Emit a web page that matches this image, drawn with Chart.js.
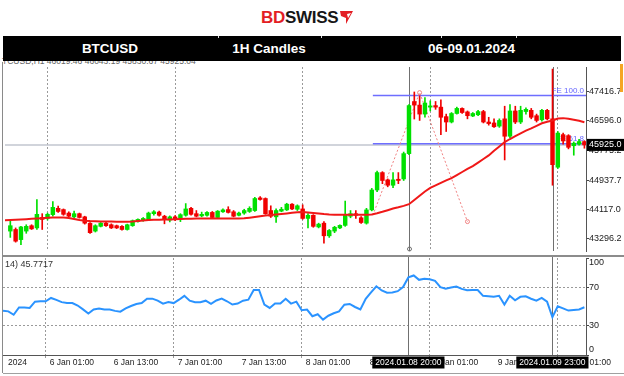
<!DOCTYPE html>
<html lang="en">
<head>
<meta charset="UTF-8">
<title>BTCUSD 1H Candles</title>
<script src="https://cdn.jsdelivr.net/npm/chart.js"></script>
<style>
  body { margin: 0; width: 624px; height: 376px; position: relative; overflow: hidden; background: #fff;
         font-family: "Liberation Sans", Arial, sans-serif; }
  #logo { position: absolute; left: 261px; top: 8px; height: 20px; line-height: 20px; font-size: 17px;
          font-weight: bold; letter-spacing: -0.3px; white-space: nowrap; }
  #logo .bd { color: #e31e24; }
  #logo .sw { color: #161616; }
  #logo svg { position: absolute; left: 78px; top: 2px; }
  #mtHead { position: absolute; left: 2px; top: 56px; font-size: 8.5px; color: #666; white-space: nowrap; z-index: 1; }
  #topBar { position: absolute; left: 3px; top: 36px; width: 618px; height: 25px; background: #000; z-index: 3; }
  #topBar .cell { position: absolute; top: 0; height: 25px; line-height: 25px; text-align: center;
                  color: #fff; font-weight: bold; font-size: 13.5px; }
  #topBar .sep { position: absolute; top: 0; width: 1px; height: 2px; background: #ddd; }
  canvas { position: absolute; left: 0; z-index: 2; }
  #priceChart { top: 62px; }
  #rsiChart { top: 256px; }
  .line { position: absolute; z-index: 4; }
</style>
</head>
<body>
  <div id="logo"><span class="bd">BD</span><span class="sw">SWISS</span><svg width="15" height="15" viewBox="0 0 15 15"><path d="M1 1 H14 L7 14 L7 8 L2 6 Z" fill="#e31e24"/><path d="M8 4 L12 3 L9 8 Z" fill="#fff"/></svg></div>
  <div id="mtHead">TCUSD,H1 46019.46 46043.19 45830.67 45925.04</div>
  <div id="topBar">
    <div class="cell" style="left:0;width:214px">BTCUSD</div>
    <div class="cell" style="left:215px;width:102px">1H Candles</div>
    <div class="cell" style="left:319px;width:299px">06-09.01.2024</div>
    <div class="sep" style="left:215px"></div>
    <div class="sep" style="left:318px"></div>
    <div class="sep" style="left:438px"></div>
    <div class="sep" style="left:513px"></div>
  </div>

  <canvas id="priceChart" width="624" height="194"></canvas>
  <canvas id="rsiChart" width="624" height="120"></canvas>

  <!-- panel frame lines -->
  <div class="line" style="left:3px;top:255px;width:621px;height:2px;background:#8c8c8c"></div>
  <div class="line" style="left:2px;top:62px;width:1px;height:311px;background:#8a8a8a"></div>
  <div class="line" style="left:3px;top:373px;width:621px;height:1px;background:#a0a0a0"></div>
  <div class="line" style="left:620px;top:64px;width:3px;height:28px;background:#f5a623"></div>

<script>
// hourly bars, number 0 is cut by the left edge of the chart
const opens = [
  null, 43509, 43554, 43270, 43509, 43660, 43598, 43890, 43864, 43970,
  44147, 44112, 44014, 43908, 43997, 43908, 43731, 43509, 43642, 43731,
  43687, 43660, 43642, 43554, 43660, 43775, 43802, 43820, 43997, 44041,
  43926, 43820, 43908, 43864, 43952, 44147, 43997, 43935, 43952, 44032,
  43890, 44050, 44112, 44050, 43952, 44014, 44059, 44085, 44440, 44422,
  44085, 43908, 44068, 44103, 44263, 44121, 44130, 43864, 43952, 43625,
  43731, 43377, 43509, 43598, 43669, 43926, 43997, 43882, 43731, 44103,
  44661, 45149, 44945, 44794, 44962, 44971, 45680, 47140, 47040, 46788,
  46983, 47027, 46983, 46717, 46566, 46805, 46947, 46850, 46734, 46770,
  46859, 46566, 46540, 46451, 46655, 46167, 46876, 46566, 46859, 46894,
  46743, 46628, 46894, 46655, 45299, 46212, 46185, 45902, 45946, 46019
];
const highs = [
  null, 43793, 43598, 43642, 43687, 43687, 44395, 43997, 44014, 44333,
  44209, 44130, 44050, 44068, 44014, 43926, 43749, 43687, 43749, 43757,
  43713, 43678, 43660, 43704, 43820, 43855, 43890, 44041, 44085, 44068,
  43952, 43935, 43944, 43997, 44280, 44174, 44085, 44041, 44059, 44059,
  44085, 44130, 44192, 44085, 44041, 44121, 44192, 44457, 44475, 44440,
  44218, 44130, 44174, 44289, 44280, 44245, 44245, 43997, 43970, 43731,
  43775, 43554, 43642, 43687, 44351, 44085, 44085, 43917, 44147, 44706,
  45193, 45175, 44971, 45149, 45149, 45724, 47053, 47408, 47300, 47248,
  47160, 47142, 47186, 46788, 46832, 46983, 46965, 46876, 46832, 46894,
  46894, 46699, 46655, 46655, 47009, 47053, 47009, 47009, 46965, 46947,
  46788, 46921, 46921, 48050, 46300, 46256, 46212, 46008, 46079, 46043
];
const lows = [
  null, 43332, 43199, 43128, 43447, 43554, 43554, 43554, 43820, 43926,
  44032, 43952, 43899, 43882, 43873, 43704, 43447, 43483, 43625, 43642,
  43580, 43580, 43536, 43536, 43642, 43757, 43784, 43802, 43952, 43926,
  43713, 43766, 43802, 43775, 43926, 43952, 43908, 43908, 43926, 43864,
  43864, 44032, 44014, 43908, 43935, 43979, 44032, 44059, 44378, 43979,
  43890, 43749, 44050, 44085, 44112, 44085, 43840, 43598, 43616, 43598,
  43173, 43332, 43465, 43580, 43642, 43882, 43864, 43722, 43704, 44076,
  44617, 44838, 44750, 44723, 44838, 44927, 45654, 46650, 46610, 46699,
  46876, 46921, 46212, 46300, 46540, 46788, 46805, 46655, 46717, 46743,
  46540, 46478, 46416, 46416, 45503, 46123, 46522, 46522, 46788, 46655,
  46566, 46593, 46628, 44794, 45264, 45946, 45813, 45636, 45919, 45831
];
const closes = [
  null, 43660, 43226, 43625, 43642, 43571, 43979, 43837, 43979, 44174,
  44059, 43979, 43926, 43997, 43890, 43731, 43465, 43660, 43731, 43660,
  43598, 43598, 43554, 43687, 43802, 43837, 43864, 44014, 44050, 43952,
  43837, 43908, 43837, 43970, 44130, 43979, 43926, 43979, 44032, 43890,
  44068, 44103, 44032, 43926, 44014, 44085, 44147, 44422, 44395, 43997,
  43926, 44085, 44121, 44263, 44130, 44218, 43864, 43952, 43642, 43704,
  43377, 43527, 43616, 43669, 43952, 43997, 43952, 43749, 44103, 44661,
  45149, 44927, 44794, 44945, 44927, 45680, 47027, 47040, 46788, 47098,
  47018, 46983, 46699, 46566, 46805, 46947, 46832, 46743, 46805, 46859,
  46566, 46522, 46433, 46610, 46167, 46876, 46566, 46894, 46921, 46699,
  46610, 46894, 46655, 45370, 46256, 46035, 45857, 45972, 46019, 45925
];
// red moving average
const maValues = [
  43810, 43818, 43826, 43834, 43842, 43852, 43862, 43872, 43882, 43888,
  43890, 43888, 43878, 43850, 43818, 43800, 43790, 43784, 43780, 43778,
  43776, 43774, 43772, 43770, 43775, 43790, 43805, 43818, 43825, 43830,
  43833, 43836, 43840, 43845, 43852, 43858, 43862, 43863, 43863, 43863,
  43863, 43863, 43863, 43863, 43863, 43866, 43885, 43905, 43925, 43945,
  43960, 43975, 43990, 44005, 44020, 44035, 44045, 44030, 44015, 44000,
  43985, 43975, 43970, 43968, 43968, 43968, 43968, 43968, 43970, 43975,
  44010, 44050, 44095, 44140, 44175, 44215, 44262, 44380, 44500, 44620,
  44720, 44790, 44860, 44930, 44995, 45080, 45165, 45250, 45330, 45430,
  45530, 45630, 45760, 45880, 46005, 46090, 46170, 46250, 46325, 46390,
  46460, 46530, 46575, 46610, 46665, 46675, 46660, 46630, 46600, 46560
];
// RSI(14)
const rsiValues = [
  45.7, 45.0, 41.5, 49.0, 49.0, 48.5, 55.0, 55.4, 55.4, 58.8,
  56.8, 54.5, 53.6, 53.6, 51.0, 47.0, 42.7, 47.0, 47.8, 46.8,
  46.8, 45.5, 44.7, 48.0, 50.5, 52.5, 53.6, 58.0, 58.1, 56.0,
  53.0, 54.5, 53.5, 57.0, 61.0, 56.0, 54.3, 54.3, 56.0, 52.7,
  56.2, 58.1, 55.4, 52.0, 53.0, 56.0, 57.1, 67.0, 67.0, 52.0,
  48.5, 53.0, 53.0, 58.0, 53.0, 55.0, 46.1, 46.8, 40.0, 42.0,
  36.5, 40.5, 43.0, 45.0, 51.9, 52.6, 49.5, 47.0, 58.0, 64.5,
  70.8, 66.5, 64.2, 64.5, 65.8, 70.0, 80.0, 82.0, 77.5, 78.5,
  78.0, 76.5, 70.0, 68.4, 69.5, 70.5, 68.2, 66.7, 67.0, 67.0,
  61.0, 60.5, 60.0, 61.0, 52.0, 61.0, 56.4, 60.0, 60.5, 58.0,
  56.0, 58.8, 55.0, 39.0, 50.3, 48.0, 45.8, 46.5, 47.0, 49.2
];

const priceTicks = [47416.7, 46596.0, 45775.2, 44937.7, 44117.0, 43296.2];
const rsiTicks = [100, 70, 30, 0];
const timeTicks = [0.2, 8, 20, 32, 44, 56, 68, 80, 92, 104];
const timeLabels = ['2024', '6 Jan 01:00', '6 Jan 13:00', '7 Jan 01:00', '7 Jan 13:00',
                    '8 Jan 01:00', '8 Jan 13:00', '9 Jan 01:00', '9 Jan 13:00', '10 Jan 01:00'];
const dayLines = [8, 32, 56, 80, 104];

// fibo expansion drawn on the chart
const fiboBars = [69.2, 78, 87];
const fiboPrices = [43953, 47390, 43775];
const feLevels = [47310, 45960];
const feLabels = ['FE 100.0', 'FE 61.8'];
const lastPrice = 45925.0;
const crossBars = [76, 103];
const crossLabels = ['2024.01.08 20:00', '2024.01.09 23:00'];
const rsiCaption = '14) 45.7717';

// visible window
const xMin = 0, xMax = 109.3;
const priceMin = 42951, priceMax = 48108;

Chart.defaults.font.family = '"Liberation Sans", Arial, sans-serif';
Chart.defaults.color = '#222';

const bullColor = '#00e000';
const bearColor = '#f00000';
const bars = [];
for (let i = 0; i < opens.length; i++) {
  if (opens[i] !== null) bars.push(i);
}
const candleColors = bars.map(i => closes[i] >= opens[i] ? bullColor : bearColor);

function drawCross(chart, top) {
  const {ctx, chartArea: a, scales: {x}} = chart;
  ctx.save();
  ctx.strokeStyle = '#707070';
  ctx.lineWidth = 1;
  crossBars.forEach(b => {
    const px = Math.round(x.getPixelForValue(b)) + 0.5;
    ctx.beginPath();
    ctx.moveTo(px, top);
    ctx.lineTo(px, a.bottom);
    ctx.stroke();
  });
  ctx.restore();
}

const priceExtras = {
  id: 'priceExtras',
  beforeDatasetsDraw(chart) {
    const {ctx, chartArea: a, scales: {x, y}} = chart;
    drawCross(chart, a.top);
    ctx.save();
    ctx.font = '8px "Liberation Sans"';
    ctx.fillStyle = '#6464ff';
    ctx.textAlign = 'right';
    ctx.textBaseline = 'bottom';
    feLevels.forEach((v, k) => ctx.fillText(feLabels[k], a.right - 2, y.getPixelForValue(v) - 1));
    // little marker where the crosshair meets the panel edge
    ctx.strokeStyle = '#707070';
    ctx.beginPath();
    ctx.arc(Math.round(x.getPixelForValue(crossBars[0])) + 0.5, a.bottom - 2, 2, 0, Math.PI * 2);
    ctx.stroke();
    ctx.restore();
  },
  afterDraw(chart) {
    const {ctx, chartArea: a, scales: {y}} = chart;
    const py = y.getPixelForValue(lastPrice);
    ctx.save();
    ctx.fillStyle = '#000';
    ctx.fillRect(a.right + 1, py - 6, chart.width - a.right, 12);
    ctx.fillStyle = '#fff';
    ctx.font = '9px "Liberation Sans"';
    ctx.textBaseline = 'middle';
    ctx.fillText(lastPrice.toFixed(1), a.right + 3, py);
    ctx.restore();
  }
};

new Chart(document.getElementById('priceChart'), {
  type: 'bar',
  data: {
    datasets: [
      {
        type: 'line', label: 'MA',
        data: maValues.map((v, i) => ({x: i, y: v})),
        borderColor: '#f01818', borderWidth: 2, pointRadius: 0, order: 1
      },
      {
        label: 'Body',
        data: bars.map(i => ({x: i, y: [opens[i], closes[i]]})),
        backgroundColor: candleColors, barThickness: 3.8, minBarLength: 1, grouped: false, order: 2
      },
      {
        label: 'Wick',
        data: bars.map(i => ({x: i, y: [lows[i], highs[i]]})),
        backgroundColor: candleColors, barThickness: 1, grouped: false, order: 3
      },
      {
        type: 'line', label: 'Fibo',
        data: fiboBars.map((b, k) => ({x: b, y: fiboPrices[k]})),
        borderColor: '#f08080', borderWidth: 1, borderDash: [2, 2],
        pointRadius: [0, 2, 2], pointBorderColor: '#f08080', pointBackgroundColor: 'rgba(0,0,0,0)', order: 4
      },
      ...feLevels.map(v => ({
        type: 'line', label: 'FE',
        data: [{x: fiboBars[0], y: v}, {x: xMax, y: v}],
        borderColor: '#6e6eff', borderWidth: 1.5, pointRadius: 0, order: 5
      })),
      {
        type: 'line', label: 'Last',
        data: [{x: xMin, y: lastPrice}, {x: xMax, y: lastPrice}],
        borderColor: '#c2c6cf', borderWidth: 1.5, pointRadius: 0, order: 6
      }
    ]
  },
  options: {
    responsive: false,
    animation: false,
    events: [],
    layout: {padding: {left: 3, right: 0, top: 0, bottom: 0}},
    plugins: {legend: {display: false}, tooltip: {enabled: false}},
    scales: {
      x: {
        type: 'linear', min: xMin, max: xMax, offset: false,
        afterBuildTicks: s => { s.ticks = dayLines.map(v => ({value: v})); },
        afterFit: s => { s.height = 0; s.paddingLeft = 0; s.paddingRight = 0; },
        ticks: {display: false},
        grid: {color: '#9a9a9a', drawTicks: false, offset: false},
        border: {display: false, dash: [2, 2]}
      },
      y: {
        position: 'right', min: priceMin, max: priceMax,
        afterBuildTicks: s => { s.ticks = priceTicks.map(v => ({value: v})); },
        afterFit: s => { s.width = 38; s.paddingTop = 0; s.paddingBottom = 0; },
        ticks: {autoSkip: false, padding: 0, font: {size: 9}, color: '#222', callback: v => v.toFixed(1)},
        grid: {drawOnChartArea: false, tickLength: 3, tickColor: '#444'},
        border: {color: '#555', width: 1}
      }
    }
  },
  plugins: [priceExtras]
});

const rsiExtras = {
  id: 'rsiExtras',
  beforeDatasetsDraw(chart) {
    drawCross(chart, 0);
  },
  afterDraw(chart) {
    const {ctx, chartArea: a, scales: {x, y}} = chart;
    ctx.save();
    ctx.font = '9px "Liberation Sans"';
    ctx.fillStyle = '#222';
    ctx.textBaseline = 'middle';
    rsiTicks.forEach(v => {
      const py = Math.min(Math.max(y.getPixelForValue(v), a.top + 5), a.bottom - 5);
      ctx.fillText(String(v), a.right + 3, py);
    });
    ctx.fillStyle = '#333';
    ctx.fillText(rsiCaption, 5, a.top + 7);
    // time boxes of the crosshairs
    ctx.font = '8.5px "Liberation Sans"';
    crossBars.forEach((b, k) => {
      const px = x.getPixelForValue(b);
      const w = ctx.measureText(crossLabels[k]).width + 6;
      ctx.fillStyle = '#000';
      ctx.fillRect(px - w / 2, a.bottom + 1.5, w, 12);
      ctx.fillStyle = '#fff';
      ctx.textAlign = 'center';
      ctx.fillText(crossLabels[k], px, a.bottom + 8);
    });
    ctx.restore();
  }
};

const gridColor = c => (c.tick && dayLines.includes(c.tick.value)) ? '#9a9a9a' : 'rgba(0,0,0,0)';

new Chart(document.getElementById('rsiChart'), {
  type: 'line',
  data: {
    datasets: [{
      label: 'RSI',
      data: rsiValues.map((v, i) => ({x: i, y: v})),
      borderColor: '#2a93ff', borderWidth: 2, pointRadius: 0, tension: 0
    }]
  },
  options: {
    responsive: false,
    animation: false,
    events: [],
    layout: {padding: {left: 3, right: 0, top: 2, bottom: 0}},
    plugins: {legend: {display: false}, tooltip: {enabled: false}},
    scales: {
      x: {
        type: 'linear', min: xMin, max: xMax, offset: false,
        afterBuildTicks: s => { s.ticks = timeTicks.map(v => ({value: v})); },
        afterFit: s => { s.height = 21; s.paddingLeft = 0; s.paddingRight = 0; },
        ticks: {autoSkip: false, maxRotation: 0, align: 'start', labelOffset: 4, padding: 0,
                font: {size: 8.5}, color: '#222', callback: (v, k) => timeLabels[k]},
        grid: {color: gridColor, tickColor: gridColor, tickLength: 3},
        border: {color: '#555', width: 1, dash: [2, 2]}
      },
      y: {
        position: 'right', min: 0, max: 100,
        afterBuildTicks: s => { s.ticks = rsiTicks.map(v => ({value: v})); },
        afterFit: s => { s.width = 38; s.paddingTop = 0; s.paddingBottom = 0; },
        ticks: {display: false},
        grid: {
          color: c => (c.tick && (c.tick.value === 70 || c.tick.value === 30)) ? '#9a9a9a' : 'rgba(0,0,0,0)',
          tickColor: '#444', tickLength: 3
        },
        border: {color: '#555', width: 1, dash: [2, 2]}
      }
    }
  },
  plugins: [rsiExtras]
});
</script>
</body>
</html>
